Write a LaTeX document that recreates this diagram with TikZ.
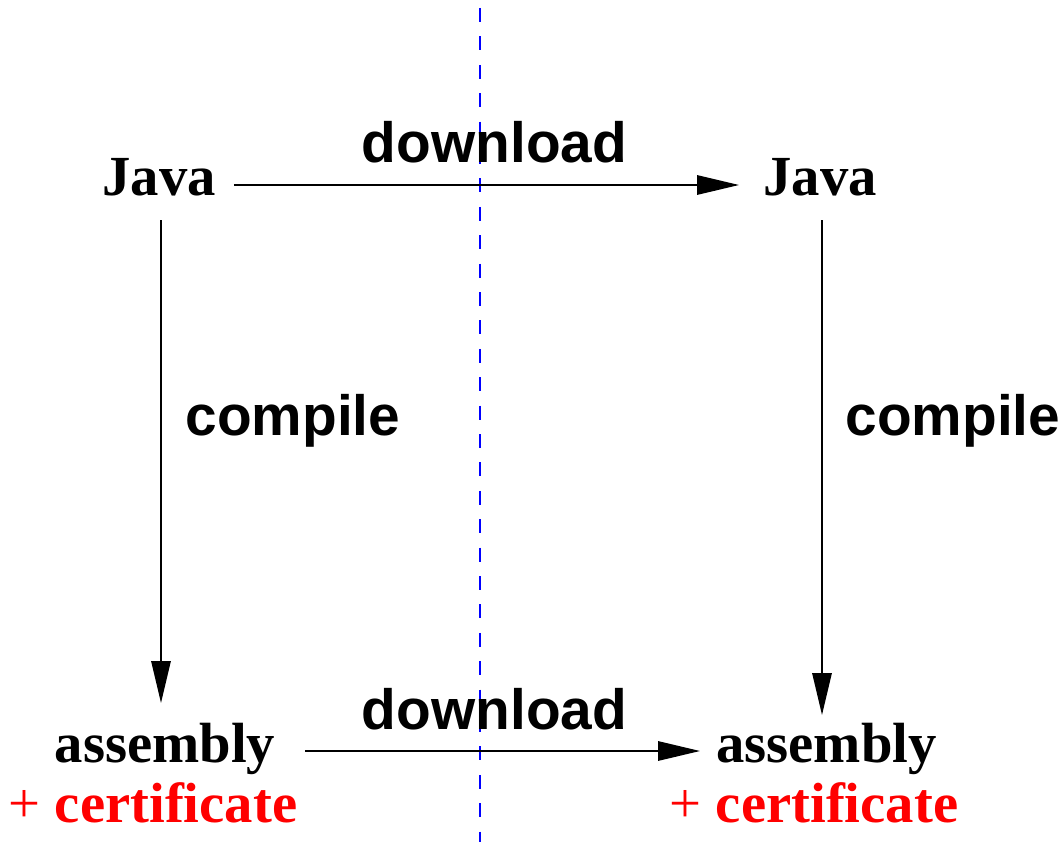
\documentclass[tikz,border=0pt]{standalone}
\usepackage{fontspec}
\setmainfont{Liberation Serif}
\setsansfont{Liberation Sans}
\usetikzlibrary{arrows.meta,calc}
\definecolor{certred}{RGB}{255,0,0}
\definecolor{divblue}{RGB}{0,0,255}
\begin{document}
\begin{tikzpicture}[x=0.75pt,y=-0.75pt,
  serl/.style={font=\fontsize{42.5}{48}\selectfont\bfseries, inner sep=0pt, anchor=base},
  cert/.style={serl, text=certred},
  sanl/.style={font=\fontsize{42.6}{48}\selectfont\sffamily\bfseries, inner sep=0pt, anchor=base},
  arr/.style={line width=1.5pt, -{Triangle[length=31.5pt,width=14.5pt]}},
  divider/.style={divblue, line width=1.5pt, dash pattern=on 10.5pt off 10.8pt}]
\useasboundingbox (0,0) rectangle (1063,842);
% divider
\coordinate (dt) at (480,8);
\coordinate (db) at (480,842);
\draw[divider] (dt) -- (db);
% nodes
\node[serl] (jl) at (159,195) {Java};
\node[serl] (jr) at (820,195) {Java};
\node[serl] (al) at (165,762) {assembly};
\node[serl] (ar) at (826.5,762) {assembly};
\node[cert] (cl) at (153,822) {{\mdseries +} certificate};
\node[cert] (cr) at (814,822) {{\mdseries +} certificate};
\node[sanl] (d1) at (494.5,162) {download};
\node[sanl] (d2) at (494.5,729) {download};
\node[sanl] (c1) at (293,435) {compile};
\node[sanl] (c2) at (953,435) {compile};
% connectors
\draw[arr] ($(jl.base east)+(18,-10)$) -- ($(jr.base west)+(-24,-10)$);
\draw[arr] ($(al.base east)+(30,-11)$) -- ($(ar.base west)+(-16,-11)$);
\draw[arr] ($(jl.base)+(2,25)$) -- ($(al.base)+(-4,-59)$);
\draw[arr] ($(jr.base)+(2,25)$) -- ($(ar.base)+(-4.5,-47)$);
\end{tikzpicture}
\end{document}
